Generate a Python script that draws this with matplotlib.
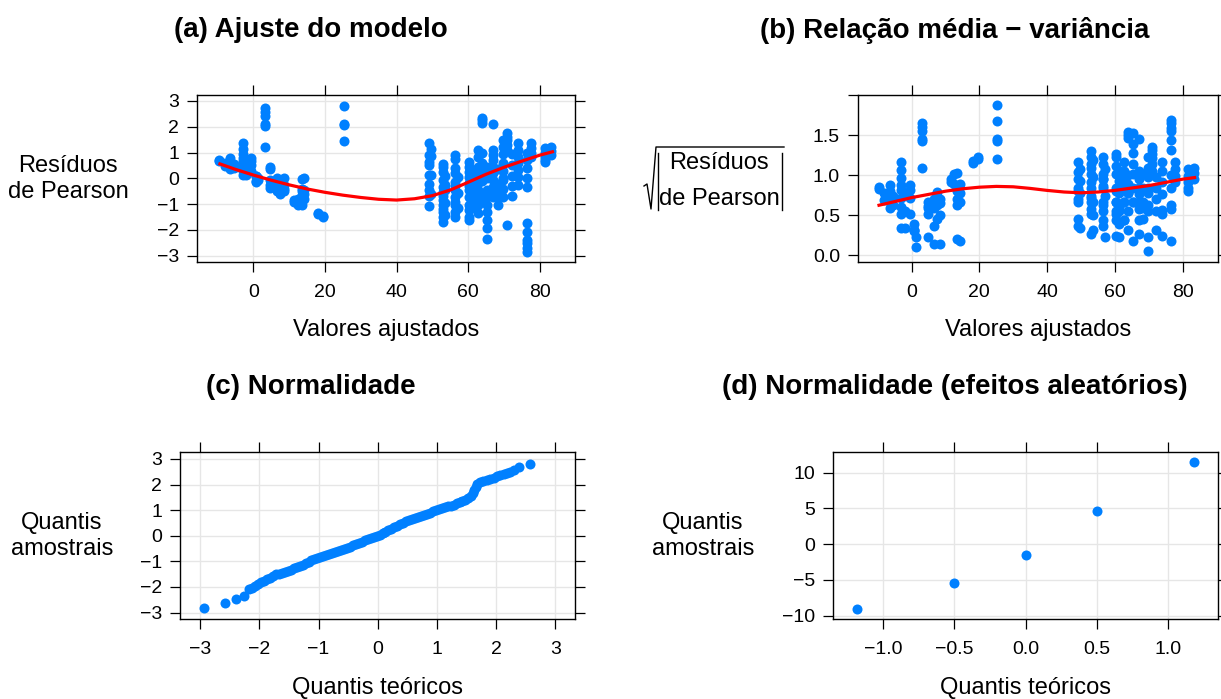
import matplotlib
matplotlib.use("Agg")
import matplotlib.pyplot as plt
from matplotlib.lines import Line2D
import numpy as np

plt.rcParams['font.family'] = 'Liberation Sans'
plt.rcParams['axes.linewidth'] = 1.0

# ---- data ----
# fitted value of each column of points, and the Pearson residuals in it
fitted_cols = [-9.5, -8.0, -6.5, -5.5, -3.0, -2.0, -0.5, 0.8, 1.2, 3.2, 4.8,
               6.5, 7.5, 8.5, 11.5, 12.5, 13.5, 14.3, 18.0, 19.5, 25.3,
               49.0, 49.6, 53.0, 53.6, 56.4, 57.2, 60.2, 61.2, 62.6, 63.8,
               65.2, 67.0, 68.2, 69.8, 70.8, 72.2, 74.0, 76.5, 77.6, 81.5, 83.2]
resid_cols = [
    [0.68, 0.72],
    [0.60, 0.48],
    [0.77, 0.64, 0.52, 0.44, 0.35],
    [0.55, 0.40],
    [1.37, 1.14, 0.94, 0.77, 0.67, 0.52, 0.37, 0.27, 0.12],
    [0.60, 0.30, 0.12],
    [0.78, 0.67, 0.52, 0.27],
    [0.10, 0.09, -0.10, -0.15],
    [0.01, -0.05],
    [2.72, 2.56, 2.40, 2.10, 2.02, 1.20],
    [0.45, 0.35, -0.05, -0.26, -0.38],
    [0.02, -0.13, -0.35, -0.50],
    [-0.20, -0.40, -0.55, -0.62],
    [-0.25, -0.42, -0.50, 0.02],
    [-0.84, -0.90],
    [-0.80, -1.03],
    [-1.05, -0.65, -0.50, -0.40, -0.04],
    [0.03, -0.45, -0.60, -0.80],
    [-1.33, -1.38],
    [-1.45, -1.50],
    [3.53, 2.80, 2.10, 2.05, 1.44],
    [1.36, 0.90, 0.65, 0.50, 0.13, -0.20, -0.45, -0.70, -1.07],
    [1.15, 0.85, 0.12, -0.60],
    [0.55, 0.45, 0.26, -0.07, -0.33, -0.52, -0.70, -0.84, -1.03, -1.20, -1.29, -1.49, -1.68],
    [0.10, -0.25, -0.45, -0.95, -1.40],
    [0.90, 0.75, 0.39, 0.19, -0.13, -0.30, -0.45, -0.71, -0.90, -1.03, -1.29, -1.49],
    [0.05, -0.55, -1.15],
    [0.64, 0.45, 0.26, 0.06, -0.19, -0.30, -0.45, -0.71, -1.03, -1.23, -1.49, -1.60],
    [0.30, 0.15, -0.05, -0.35, -0.60, -0.85, -1.10],
    [1.10, 0.84, 0.45, 0.19, -0.19, -0.45, -0.71, -1.03, -1.36],
    [2.35, 2.25, 2.15, 1.00, 0.60, 0.30, -0.10, -0.60, -0.80],
    [0.45, -0.45, -0.71, -1.03, -1.30, -1.62, -1.94, -2.33, 0.03],
    [2.10, 1.10, 0.90, 0.71, 0.45, 0.19, -0.07, -0.33, -0.58, -0.71],
    [0.35, -0.20, -0.45, -0.71, -1.03],
    [1.50, 1.20, 0.95, 0.60, 0.30, -0.05, -0.40, -0.71, 0.0025],
    [1.74, 1.60, 1.48, 1.30, 1.10, -1.81],
    [0.95, 0.50, 0.10, -0.30, -0.70],
    [1.36, 1.10, 0.84, 0.58, 0.32, 0.06, -0.26],
    [1.00, 0.70, 0.40, -0.33, -1.74, -2.07, -2.39, -2.52, -2.71, -2.85, 0.03],
    [1.36, 1.17, 0.97, 0.84],
    [1.16, 0.97, 0.84, 0.71, 0.64],
    [1.20, 1.05, 0.90],
]

# smoother in (a)
smooth_a_x = [-9.3, -5, 0, 5, 10, 15, 20, 25, 30, 35, 40, 45, 50, 55, 60, 65, 70, 75, 80, 83.5]
smooth_a_y = [0.56, 0.35, 0.13, -0.07, -0.25, -0.41, -0.54, -0.65, -0.74, -0.81, -0.84,
              -0.79, -0.67, -0.45, -0.15, 0.16, 0.43, 0.67, 0.90, 1.03]
# smoother in (b)
smooth_b_x = [-9.6, -5, 0, 5, 10, 15, 20, 25, 30, 35, 40, 45, 50, 55, 60, 65, 70, 75, 80, 83.5]
smooth_b_y = [0.625, 0.67, 0.72, 0.76, 0.80, 0.83, 0.85, 0.86, 0.855, 0.835, 0.81, 0.79,
              0.78, 0.79, 0.81, 0.84, 0.87, 0.91, 0.95, 0.97]

# (c) normal QQ of residuals
qq_x = [-2.93, -2.58, -2.40, -2.26, -2.17, -2.12, -2.07, -2.02, -1.97, -1.92, -1.87,
        -1.82, -1.77, -1.72, -1.67, -1.62, -1.57, -1.52, -1.47, -1.42, -1.37, -1.32,
        -1.27, -1.22, -1.17, -1.12, -1.07, -1.02, -0.97, -0.92, -0.87, -0.82, -0.77,
        -0.72, -0.67, -0.62, -0.57, -0.52, -0.47, -0.42, -0.37, -0.32, -0.27, -0.22,
        -0.17, -0.12, -0.07, -0.02, 0.03, 0.08, 0.13, 0.18, 0.23, 0.28, 0.33, 0.38,
        0.43, 0.48, 0.53, 0.58, 0.63, 0.68, 0.73, 0.78, 0.83, 0.88, 0.93, 0.98, 1.03,
        1.08, 1.13, 1.18, 1.23, 1.28, 1.33, 1.38, 1.43, 1.48, 1.53, 1.57, 1.60, 1.63,
        1.65, 1.67, 1.72, 1.78, 1.84, 1.90, 1.96, 2.02, 2.07, 2.13, 2.18, 2.23, 2.30,
        2.39, 2.57]
qq_y = [-2.84, -2.63, -2.47, -2.37, -2.09, -2.03, -1.96, -1.88, -1.82, -1.76, -1.70,
        -1.63, -1.57, -1.51, -1.48, -1.46, -1.43, -1.38, -1.33, -1.27, -1.23, -1.19,
        -1.13, -1.07, -1.01, -0.96, -0.92, -0.88, -0.84, -0.80, -0.76, -0.71, -0.67,
        -0.63, -0.59, -0.54, -0.50, -0.47, -0.43, -0.38, -0.33, -0.28, -0.23, -0.18,
        -0.13, -0.08, -0.04, 0.00, 0.03, 0.09, 0.16, 0.22, 0.28, 0.34, 0.40, 0.45,
        0.50, 0.56, 0.61, 0.65, 0.69, 0.73, 0.78, 0.82, 0.86, 0.90, 0.95, 1.00, 1.05,
        1.10, 1.13, 1.15, 1.18, 1.22, 1.26, 1.31, 1.35, 1.39, 1.47, 1.56, 1.66, 1.78,
        1.92, 2.04, 2.10, 2.14, 2.18, 2.22, 2.27, 2.32, 2.36, 2.41, 2.44, 2.50, 2.55,
        2.70, 2.79]

# (d) normal QQ of random effects
re_x = [-1.18, -0.50, 0.0, 0.50, 1.18]
re_y = [-9.06, -5.47, -1.55, 4.69, 11.45]

# ---- layout (pixel boxes of the reference) ----
W, H = 1221, 699
BLUE = '#0080ff'
GRID = '#e6e6e6'
DOT = 52


def px_box(l, t, r, b):
    return [l / W, 1 - b / H, (r - l) / W, (b - t) / H]


def fx(x):
    return x / W


def fy(y):
    return 1 - y / H


def style(ax, xt, yt, ylabels=None):
    ax.set_xticks(xt)
    ax.set_yticks(yt)
    if ylabels is not None:
        ax.set_yticklabels(ylabels)
    ax.grid(True, color=GRID, lw=1.0)
    ax.set_axisbelow(True)
    ax.tick_params(direction='out', length=7, width=0.9, top=True, right=True,
                   labeltop=False, labelright=False, labelsize=14, pad=6,
                   colors='black')
    ax.tick_params(axis='x', pad=9)
    for s in ax.spines.values():
        s.set_color('black')
        s.set_linewidth(1.0)


fig = plt.figure(figsize=(W / 100, H / 100), dpi=100)

fitted = np.concatenate([[f] * len(r) for f, r in zip(fitted_cols, resid_cols)])
resid = np.concatenate(resid_cols)

# (a)
ax = fig.add_axes(px_box(197, 95, 575, 262))
ax.scatter(fitted, resid, s=DOT, color=BLUE, linewidths=0, zorder=2)
ax.plot(smooth_a_x, smooth_a_y, color='red', lw=2.3, zorder=3)
ax.set_xlim(-15.7, 89.8)
ax.set_ylim(-3.24, 3.23)
style(ax, [0, 20, 40, 60, 80], [-3, -2, -1, 0, 1, 2, 3])

# (b)
ax = fig.add_axes(px_box(858, 95, 1218, 262))
ax.scatter(fitted, np.sqrt(np.abs(resid)), s=DOT, color=BLUE, linewidths=0, zorder=2)
ax.plot(smooth_b_x, smooth_b_y, color='red', lw=2.3, zorder=3)
ax.set_xlim(-15.8, 90.4)
ax.set_ylim(-0.083, 2.0)
style(ax, [0, 20, 40, 60, 80], [0, 0.5, 1.0, 1.5, 2.0],
      ['0.0', '0.5', '1.0', '1.5', ''])

# (c)
ax = fig.add_axes(px_box(180, 452, 575, 619))
ax.scatter(qq_x, qq_y, s=DOT, color=BLUE, linewidths=0, zorder=2)
ax.set_xlim(-3.34, 3.33)
ax.set_ylim(-3.25, 3.27)
style(ax, [-3, -2, -1, 0, 1, 2, 3], [-3, -2, -1, 0, 1, 2, 3])

# (d)
ax = fig.add_axes(px_box(833, 452, 1218, 619))
ax.scatter(re_x, re_y, s=DOT, color=BLUE, linewidths=0, zorder=2)
ax.set_xlim(-1.35, 1.347)
ax.set_ylim(-10.46, 12.9)
style(ax, [-1.0, -0.5, 0.0, 0.5, 1.0], [-10, -5, 0, 5, 10])

# titles
tkw = dict(fontsize=20, fontweight='bold', ha='center', va='center')
fig.text(fx(311), fy(30), '(a) Ajuste do modelo', **tkw)
fig.text(fx(955), fy(30), '(b) Relação média \u2212 variância', **tkw)
fig.text(fx(311), fy(387), '(c) Normalidade', **tkw)
fig.text(fx(955), fy(387), '(d) Normalidade (efeitos aleatórios)', **tkw)

# axis labels
lkw = dict(fontsize=17, ha='center', va='center')
fig.text(fx(386), fy(330), 'Valores ajustados', **lkw)
fig.text(fx(1038), fy(330), 'Valores ajustados', **lkw)
fig.text(fx(377), fy(688), 'Quantis teóricos', **lkw)
fig.text(fx(1026), fy(688), 'Quantis teóricos', **lkw)
fig.text(fx(68), fy(179), 'Resíduos\nde Pearson', linespacing=1.25, **lkw)
fig.text(fx(62), fy(536), 'Quantis\namostrais', linespacing=1.25, **lkw)
fig.text(fx(703), fy(536), 'Quantis\namostrais', linespacing=1.25, **lkw)

# sqrt(|Pearson residuals|) label of (b)
fig.text(fx(719), fy(163), 'Resíduos', **lkw)
fig.text(fx(719), fy(199), 'de Pearson', **lkw)
rad_x = [644, 647, 651, 656, 784]
rad_y = [186, 184, 209, 147, 147]
fig.add_artist(Line2D([fx(v) for v in rad_x], [fy(v) for v in rad_y],
                      color='black', lw=1.0, transform=fig.transFigure))
for bx in (658, 782):
    fig.add_artist(Line2D([fx(bx), fx(bx)], [fy(153), fy(210)],
                          color='black', lw=1.0, transform=fig.transFigure))

fig.savefig('out.png', dpi=100)
